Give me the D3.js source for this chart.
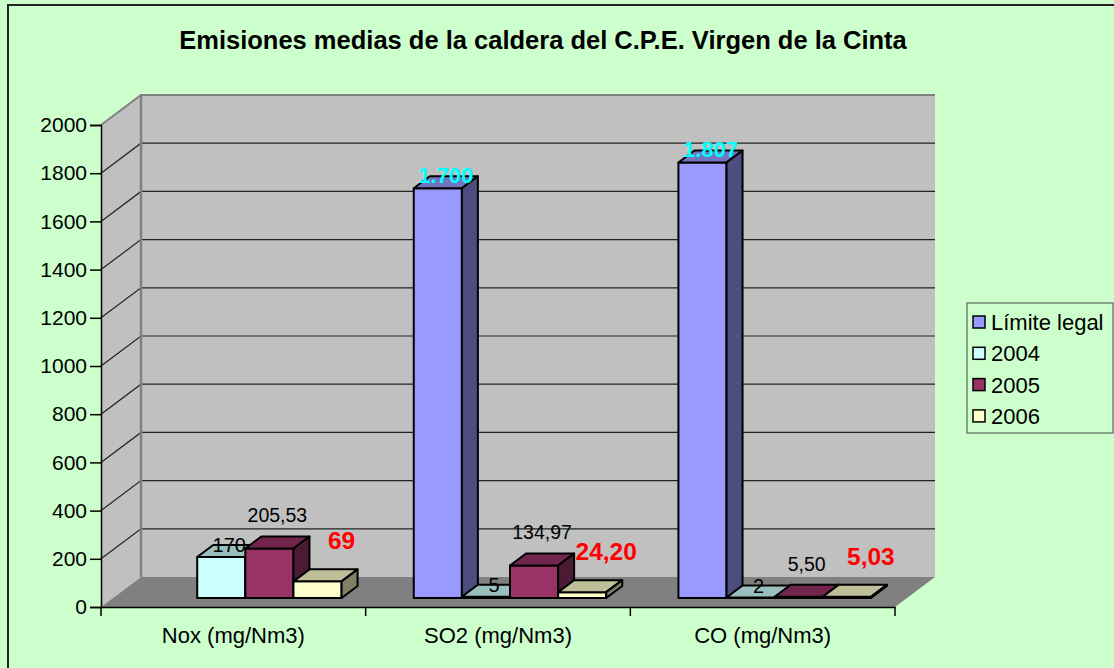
<!DOCTYPE html>
<html>
<head>
<meta charset="utf-8">
<script src="https://cdn.jsdelivr.net/npm/d3@7"></script>
<style>
  body { margin: 0; background: #fff; }
  svg { display: block; font-family: "Liberation Sans", Arial, sans-serif; }
</style>
</head>
<body>
<div id="chart"></div>
<script>
const categories = ["Nox (mg/Nm3)", "SO2 (mg/Nm3)", "CO (mg/Nm3)"];
const seriesNames = ["Límite legal", "2004", "2005", "2006"];
const limiteLegal = [null, 1700, 1807];
const values2004 = [170, 5, 2];
const values2005 = [205.53, 134.97, 5.50];
const values2006 = [69, 24.20, 5.03];
const labels2006 = ["69", "24,20", "5,03"];
const yTicks = [0, 200, 400, 600, 800, 1000, 1200, 1400, 1600, 1800, 2000];

class EmissionsChart {

  constructor(selector) {
    this.width = 1114;
    this.height = 668;

    // plot box on the front plane, depth offset to the back wall
    this.left = 101;
    this.right = 895;
    this.top = 125;
    this.bottom = 607;
    this.depthX = 40;
    this.depthY = -30;

    this.colors = ["#9999FF", "#CCFFFF", "#993366", "#FFFFCC"];
    this.series = [limiteLegal, values2004, values2005, values2006];

    this.svg = d3.select(selector).append("svg")
      .attr("width", this.width)
      .attr("height", this.height);

    this.y = d3.scaleLinear().domain([0, 2000]).range([this.bottom, this.top]);
    this.x = d3.scaleBand().domain(categories).range([this.left, this.right]);

    // gap width 150% of a bar
    const w = this.x.bandwidth() / 5.5;
    this.inner = d3.scaleBand().domain(seriesNames).range([0.75 * w, 4.75 * w]);

    this.drawFrame();
    this.drawWalls();
    this.drawBars();
    this.drawAxes();
    this.drawLegend();
  }

  // project a point on the front plane back by a fraction of the depth
  p(x, y, d) {
    return [x + d * this.depthX, y + d * this.depthY];
  }

  shade(c, k) {
    const r = d3.rgb(c);
    return d3.rgb(r.r * k, r.g * k, r.b * k).formatHex();
  }

  drawFrame() {
    this.svg.append("rect")
      .attr("x", 0).attr("y", 0)
      .attr("width", this.width).attr("height", this.height)
      .attr("fill", "#CCFFCC");
    this.svg.append("rect")
      .attr("x", 8).attr("y", 5)
      .attr("width", this.width + 20).attr("height", this.height + 20)
      .attr("fill", "none")
      .attr("stroke", "#222")
      .attr("stroke-width", 2);

    this.svg.append("text")
      .attr("x", 543).attr("y", 49)
      .attr("text-anchor", "middle")
      .attr("font-size", 25.5)
      .attr("font-weight", "bold")
      .text("Emisiones medias de la caldera del C.P.E. Virgen de la Cinta");
  }

  drawWalls() {
    const g = this.svg.append("g");
    const line = d3.line();
    const y0 = this.y(0), y1 = this.y(2000);

    // back wall
    g.append("path")
      .attr("d", line([this.p(this.left, y1, 1), this.p(this.right, y1, 1),
        this.p(this.right, y0, 1), this.p(this.left, y0, 1)]) + "Z")
      .attr("fill", "#C0C0C0");
    // left wall
    g.append("path")
      .attr("d", line([[this.left, y0], [this.left, y1],
        this.p(this.left, y1, 1), this.p(this.left, y0, 1)]) + "Z")
      .attr("fill", "#C0C0C0");

    // gridlines
    yTicks.filter(t => t > 0 && t < 2000).forEach(t => {
      const yy = this.y(t);
      g.append("path")
        .attr("d", line([[this.left, yy], this.p(this.left, yy, 1), this.p(this.right, yy, 1)]))
        .attr("fill", "none")
        .attr("stroke", "#222")
        .attr("stroke-width", 1.2);
    });

    // wall edges
    g.append("path")
      .attr("d", line([[this.left, y1], this.p(this.left, y1, 1), this.p(this.right, y1, 1)]))
      .attr("fill", "none")
      .attr("stroke", "#808080")
      .attr("stroke-width", 2);
    g.append("path")
      .attr("d", line([this.p(this.left, y1, 1), this.p(this.left, y0, 1)]))
      .attr("stroke", "#808080")
      .attr("stroke-width", 2.5);

    // floor
    g.append("path")
      .attr("d", line([[this.left, y0], [this.right, y0],
        this.p(this.right, y0, 1), this.p(this.left, y0, 1)]) + "Z")
      .attr("fill", "#808080");
  }

  drawBars() {
    const g = this.svg.append("g");
    const line = d3.line();
    const d0 = 0.3, d1 = 0.7;
    const fmt2 = v => d3.format(".2f")(v).replace(".", ",");
    const fmtThousands = v => d3.format(",")(v).replace(/,/g, ".");

    const labelText = [
      (v) => fmtThousands(v),
      (v) => String(v),
      (v) => fmt2(v),
      (v, i) => labels2006[i]
    ];
    // label nudges per series, relative to the top centre of the bar
    const labelStyle = [
      { dx: 0, dy: -7, size: 22, weight: "bold", fill: "#00FFFF" },
      { dx: 0, dy: -6, size: 20, weight: "normal", fill: "#000" },
      { dx: 0, dy: -27, size: 19.5, weight: "normal", fill: "#000" },
      { dx: 16, dy: -35, size: 24.5, weight: "bold", fill: "#FF0000" }
    ];

    categories.forEach((cat, ci) => {
      seriesNames.forEach((name, si) => {
        const v = this.series[si][ci];
        if (v == null) return;
        const xa = this.x(cat) + this.inner(name);
        const xb = xa + this.inner.bandwidth();
        const yb = this.y(0), yt = this.y(v);
        const c = this.colors[si];

        const bar = g.append("g")
          .attr("stroke", "#000")
          .attr("stroke-width", 2)
          .attr("stroke-linejoin", "round");
        bar.append("path")
          .attr("d", line([this.p(xa, yt, d0), this.p(xb, yt, d0),
            this.p(xb, yb, d0), this.p(xa, yb, d0)]) + "Z")
          .attr("fill", c);
        bar.append("path")
          .attr("d", line([this.p(xa, yt, d0), this.p(xa, yt, d1),
            this.p(xb, yt, d1), this.p(xb, yt, d0)]) + "Z")
          .attr("fill", this.shade(c, 0.75));
        bar.append("path")
          .attr("d", line([this.p(xb, yt, d0), this.p(xb, yt, d1),
            this.p(xb, yb, d1), this.p(xb, yb, d0)]) + "Z")
          .attr("fill", this.shade(c, 0.5));

        const st = labelStyle[si];
        const [lx, ly] = this.p((xa + xb) / 2, yt, (d0 + d1) / 2);
        g.append("text")
          .attr("x", lx + st.dx)
          .attr("y", ly + st.dy)
          .attr("dy", "0.36em")
          .attr("text-anchor", "middle")
          .attr("font-size", st.size)
          .attr("font-weight", st.weight)
          .attr("fill", st.fill)
          .text(labelText[si](v, ci));
      });
    });
  }

  drawAxes() {
    const yAxis = d3.axisLeft(this.y)
      .tickValues(yTicks)
      .tickFormat(d3.format("d"))
      .tickSize(11)
      .tickPadding(3);
    const gy = this.svg.append("g")
      .attr("transform", `translate(${this.left},0)`)
      .call(yAxis);
    gy.select(".domain").attr("stroke", "#000").attr("stroke-width", 1.5);
    gy.selectAll(".tick line").attr("stroke", "#000").attr("stroke-width", 1.5);
    gy.selectAll(".tick text")
      .attr("font-size", 21)
      .attr("font-family", "Liberation Sans, Arial, sans-serif")
      .attr("fill", "#000");

    const xAxis = d3.axisBottom(this.x).tickSize(0).tickPadding(20);
    const gx = this.svg.append("g")
      .attr("transform", `translate(0,${this.bottom})`)
      .call(xAxis);
    gx.select(".domain").attr("stroke", "#000").attr("stroke-width", 1.5);
    gx.selectAll(".tick text")
      .attr("font-size", 22)
      .attr("font-family", "Liberation Sans, Arial, sans-serif")
      .attr("fill", "#000");

    // ticks sit on the category boundaries
    gx.selectAll(".bound")
      .data(categories.map(c => this.x(c)).concat([this.right]))
      .enter()
      .append("line")
      .attr("x1", d => d).attr("x2", d => d)
      .attr("y1", 0).attr("y2", 9)
      .attr("stroke", "#000")
      .attr("stroke-width", 1.5);
  }

  drawLegend() {
    const g = this.svg.append("g").attr("transform", "translate(967,303)");
    g.append("rect")
      .attr("width", 146).attr("height", 130)
      .attr("fill", "#CCFFCC")
      .attr("stroke", "#444")
      .attr("stroke-width", 1);
    const rows = g.selectAll(".row")
      .data(seriesNames)
      .enter()
      .append("g")
      .attr("transform", (_, i) => `translate(6,${19 + i * 31.3})`);
    rows.append("rect")
      .attr("x", 0).attr("y", -6)
      .attr("width", 12).attr("height", 12)
      .attr("fill", (_, i) => this.colors[i])
      .attr("stroke", "#000")
      .attr("stroke-width", 1.5);
    rows.append("text")
      .attr("x", 18)
      .attr("dy", "0.36em")
      .attr("font-size", 22)
      .text(d => d);
  }
}

new EmissionsChart("#chart");
</script>
</body>
</html>
